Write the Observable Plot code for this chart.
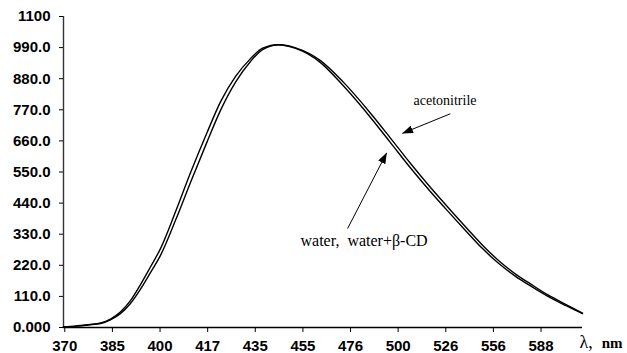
<!DOCTYPE html>
<html><head><meta charset="utf-8">
<script src="https://cdn.jsdelivr.net/npm/d3@7"></script>
<script src="https://cdn.jsdelivr.net/npm/@observablehq/plot@0.6"></script>
<style>body{margin:0;background:#fff}</style>
</head><body><div id="chart"></div>
<script>
// wavelength (nm) of sampled points
const wavelengths = [370, 373.5, 377.3, 381, 384, 387.1, 390.3, 393.5, 396.8, 400.2, 405.3, 410.5, 416.3, 421.4, 427.1, 432.9, 437.7, 444.2,
  451.4, 462.3, 472.9, 485.9, 496, 506.6, 517.6, 529.1, 538.7, 548.6, 558.9, 570.3, 580.7, 593, 606.6, 620];
const acetonitrile = [3, 5, 10, 16, 30, 55, 95, 151, 214, 280, 410, 547, 686, 798, 888, 951, 988, 1000,
  989, 944, 867, 758, 670, 580, 495, 415, 352, 291, 237, 189, 154, 116, 82, 51];
const water = [3, 5, 9, 14, 27, 49, 85, 135, 194, 256, 380, 513, 653, 768, 868, 941, 983, 1000,
  987, 937, 854, 743, 654, 564, 480, 401, 339, 279, 227, 181, 147, 111, 78, 49];

// x axis: linear in wavenumber (cm^-1), labelled with wavelength
const xTickWavenumbers = [27000, 26000, 25000, 24000, 23000, 22000, 21000, 20000, 19000, 18000, 17000];
const xTickLabels = ["370", "385", "400", "417", "435", "455", "476", "500", "526", "556", "588"];
const xAxisTitle = "\u03bb, nm";
const yTicks = [0, 110, 220, 330, 440, 550, 660, 770, 880, 990, 1100];
const yTickLabels = ["0.000", "110.0", "220.0", "330.0", "440.0", "550.0", "660.0", "770.0", "880.0", "990.0", "1100"];

// annotations: label text, label anchor (nm, value), arrow tail and tip (nm, value)
const labelTexts = ["acetonitrile", "water,\u00a0 water+\u03b2-CD"];
const labelSizes = [14, 16];
const labelPos = [[508.2, 803], [453.5, 308]];
const arrowFrom = [[529, 756], [474.8, 350]];
const arrowTo = [[502.3, 687], [494, 617]];

const rows = [];
wavelengths.forEach((l, i) => {
  rows.push({nu: 1e7 / l, v: acetonitrile[i], s: "acetonitrile"});
  rows.push({nu: 1e7 / l, v: water[i], s: "water"});
});
const labels = labelTexts.map((t, i) => ({t, nu: 1e7 / labelPos[i][0], v: labelPos[i][1], size: labelSizes[i]}));
const arrows = arrowFrom.map((f, i) => ({x1: 1e7 / f[0], y1: f[1], x2: 1e7 / arrowTo[i][0], y2: arrowTo[i][1]}));

const serif = "'Liberation Serif', 'Times New Roman', serif";
const plot = Plot.plot({
  width: 627, height: 353,
  marginLeft: 63, marginRight: 45, marginTop: 16, marginBottom: 26,
  style: {fontFamily: "'Liberation Sans', Arial, sans-serif", fontSize: "15px", fontWeight: "bold", color: "#000", background: "#fff"},
  x: {domain: [1e7 / 370, 1e7 / 620], ticks: xTickWavenumbers,
      tickFormat: d => xTickLabels[xTickWavenumbers.indexOf(d)], tickSize: 5, tickPadding: 8, label: null},
  y: {domain: [0, 1100], ticks: yTicks,
      tickFormat: d => yTickLabels[yTicks.indexOf(d)], tickSize: 4, tickPadding: 9, label: null},
  marks: [
    Plot.ruleY([0], {stroke: "#000", strokeWidth: 1.4}),
    Plot.ruleX([1e7 / 370], {stroke: "#333", strokeWidth: 1.4}),
    Plot.line(rows, {x: "nu", y: "v", z: "s", stroke: "#000", strokeWidth: 1.4, curve: "monotone-x"}),
    Plot.link(arrows, {x1: "x1", y1: "y1", x2: "x2", y2: "y2", stroke: "#000", strokeWidth: 1}),
    Plot.text(labels, {x: "nu", y: "v", text: "t", fontSize: "size", textAnchor: "start", lineAnchor: "middle",
      fontFamily: serif, fontWeight: "normal"}),
    Plot.text([xAxisTitle], {frameAnchor: "bottom-right", dx: 40, dy: 16, textAnchor: "end", lineAnchor: "middle",
      fontFamily: serif, fontSize: 15, fontWeight: "bold"})
  ]
});

const svg = d3.select(plot);
svg.selectAll('g[aria-label="text"]').style("font-family", serif);
// axis title: regular lambda, bold unit
svg.selectAll('g[aria-label="text"] text').filter(function() { return this.textContent === xAxisTitle; })
  .each(function() {
    const t = d3.select(this);
    t.text(null);
    t.append("tspan").attr("font-weight", "normal").attr("font-size", 18).text("\u03bb,\u00a0\u00a0");
    t.append("tspan").attr("font-weight", "bold").text("nm");
  });
// filled arrowheads for the annotation links
const defs = svg.insert("defs", ":first-child");
defs.append("marker").attr("id", "ahead").attr("viewBox", "0 0 11 8").attr("refX", 10.5).attr("refY", 4)
  .attr("markerWidth", 11).attr("markerHeight", 8).attr("markerUnits", "userSpaceOnUse").attr("orient", "auto")
  .append("path").attr("d", "M0,0L11,4L0,8Z").attr("fill", "#000");
svg.selectAll('g[aria-label="link"] path').attr("marker-end", "url(#ahead)");

document.getElementById("chart").appendChild(plot);
</script>
</body></html>
